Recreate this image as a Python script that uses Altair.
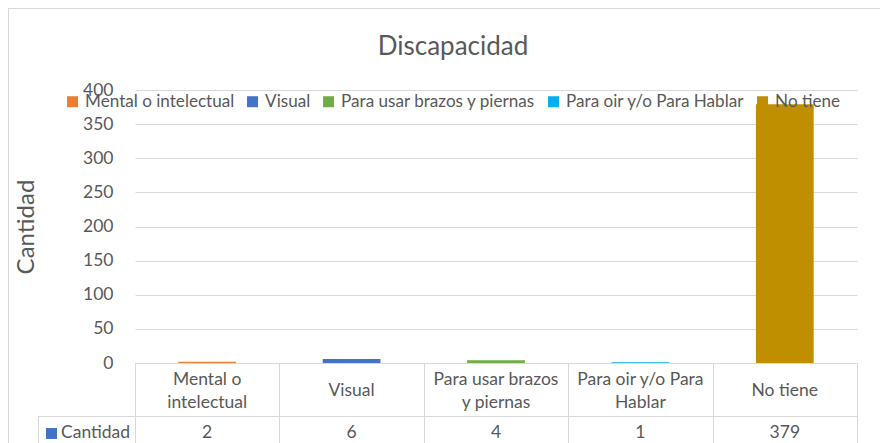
import altair as alt
import pandas as pd

categories = ["Mental o intelectual", "Visual", "Para usar brazos y piernas",
              "Para oir y/o Para Hablar", "No tiene"]
header_labels = ["Mental o\nintelectual", "Visual", "Para usar brazos\ny piernas",
                 "Para oir y/o Para\nHablar", "No tiene"]
values = [2, 6, 4, 1, 379]
colors = ["#ED7D31", "#4472C4", "#70AD47", "#00B0F0", "#BF8F00"]
y_ticks = [0, 50, 100, 150, 200, 250, 300, 350, 400]
chart_title = "Discapacidad"
y_title = "Cantidad"
series_name = "Cantidad"

df = pd.DataFrame({"cat": categories, "label": header_labels, "value": values})
one = pd.DataFrame({"title": [chart_title], "series": [series_name]})

W, H = 722, 273
FONT = "Lato"
TXT = "#595959"
LINE = "#D9D9D9"
FS = 17.5
FS_LEG = 17.1

xscale = alt.Scale(domain=categories, paddingInner=0, paddingOuter=0)

base = alt.Chart(df)
single = alt.Chart(one)

bars = base.mark_bar(width=alt.RelativeBandSize(0.4)).encode(
    x=alt.X("cat:N", scale=xscale, sort=categories,
            axis=alt.Axis(title=None, labels=False, ticks=True, tickBand="extent",
                          tickSize=80, tickColor=LINE, tickWidth=1,
                          domain=True, domainColor=LINE, domainWidth=1, grid=False)),
    y=alt.Y("value:Q", scale=alt.Scale(domain=[0, 400], nice=False),
            axis=alt.Axis(values=y_ticks, title=y_title, grid=True, gridColor=LINE,
                          domain=False, ticks=False, tickSize=0, labelPadding=22,
                          labelFont=FONT, labelFontSize=FS, labelColor=TXT,
                          titleFont=FONT, titleFontSize=24, titleFontWeight="normal",
                          titleColor=TXT, titleAngle=270, titleX=-109, titleY=136.5,
                          titleAlign="center", titleBaseline="middle")),
    color=alt.Color("cat:N", scale=alt.Scale(domain=categories, range=colors),
                    legend=alt.Legend(orient="none", legendX=-71, legendY=3,
                                      direction="horizontal", columns=5, title=None,
                                      symbolType="square", symbolSize=121,
                                      symbolStrokeWidth=0, labelFont=FONT,
                                      labelFontSize=FS_LEG, labelColor=TXT, labelOffset=4,
                                      columnPadding=9, labelLimit=0, padding=0)),
)

headers_one = base.mark_text(font=FONT, fontSize=FS, color=TXT, baseline="middle",
                             align="center").encode(
    x=alt.X("cat:N", scale=xscale, sort=categories),
    y=alt.value(301),
    text="label:N",
).transform_filter("indexof(datum.label, '\\n') < 0")

headers_two = base.mark_text(font=FONT, fontSize=FS, color=TXT, lineBreak="\n",
                             lineHeight=23, baseline="middle", align="center").encode(
    x=alt.X("cat:N", scale=xscale, sort=categories),
    y=alt.value(289.5),
    text="label:N",
).transform_filter("indexof(datum.label, '\\n') >= 0")

vals = base.mark_text(font=FONT, fontSize=FS, color=TXT, baseline="middle",
                      align="center").encode(
    x=alt.X("cat:N", scale=xscale, sort=categories),
    y=alt.value(343),
    text="value:Q",
)

hline = single.mark_rule(color=LINE, strokeWidth=1).encode(
    x=alt.value(-97), x2=alt.value(W), y=alt.value(326.5))
vline = single.mark_rule(color=LINE, strokeWidth=1).encode(
    x=alt.value(-96.5), y=alt.value(326), y2=alt.value(360))

key = single.mark_square(size=121, color=colors[1], opacity=1).encode(
    x=alt.value(-83.5), y=alt.value(343.5))
key_text = single.mark_text(font=FONT, fontSize=FS, color=TXT, baseline="middle",
                            align="left").encode(
    x=alt.value(-74), y=alt.value(343), text="series:N")

title = single.mark_text(font=FONT, fontSize=26, color=TXT, baseline="middle",
                         align="center").encode(
    x=alt.value(318), y=alt.value(-43), text="title:N")

border_top = single.mark_rule(color=LINE, strokeWidth=1).encode(
    x=alt.value(-127), x2=alt.value(W + 30), y=alt.value(-81.5))
border_left = single.mark_rule(color=LINE, strokeWidth=1).encode(
    x=alt.value(-126.5), y=alt.value(-82), y2=alt.value(H + 90))

chart = alt.layer(border_top, border_left, bars, headers_one, headers_two, vals,
                  hline, vline, key, key_text, title).properties(
    width=W, height=H,
    autosize=alt.AutoSizeParams(type="none"),
    padding={"left": 127, "top": 82, "right": 23, "bottom": 80},
    background="white",
).configure_view(stroke=None)

chart.save("out.html", embed_options={"renderer": "svg", "actions": False})
